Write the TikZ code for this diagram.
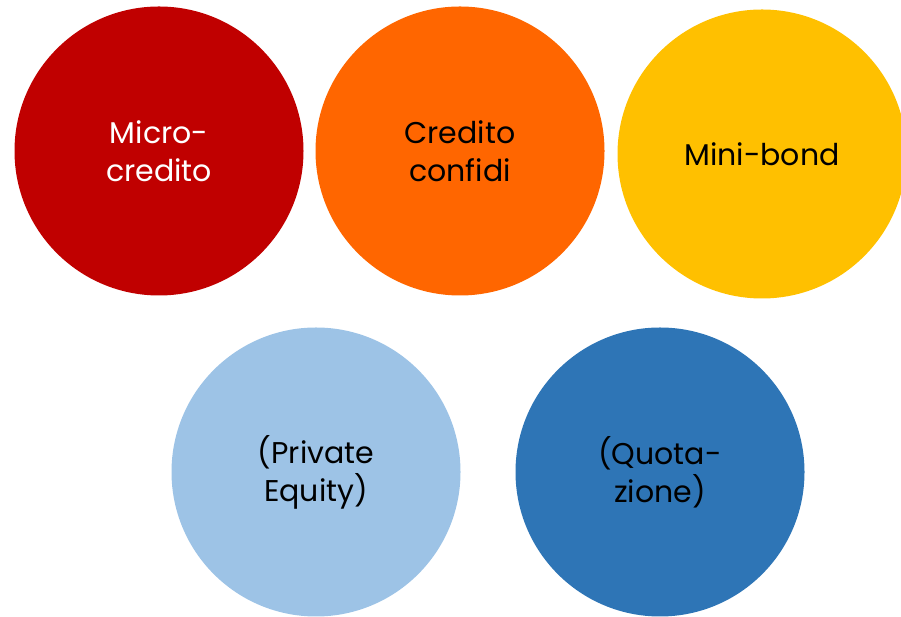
\documentclass[tikz,border=0pt]{standalone}
\usepackage{fontspec}
\setmainfont{Poppins}
\definecolor{cred}{HTML}{C00000}
\definecolor{corange}{HTML}{FF6600}
\definecolor{cyellow}{HTML}{FFC000}
\definecolor{clblue}{HTML}{9DC3E6}
\definecolor{cblue}{HTML}{2E75B6}
\tikzset{
  disc/.style={circle, minimum size=289pt, inner sep=0pt, draw=none, align=center,
    font=\fontsize{30}{38}\selectfont},
}
\begin{document}
\begin{tikzpicture}[x=1pt,y=1pt]
\useasboundingbox (0,0) rectangle (901,617);
\clip (0,0) rectangle (901,617);
\node[disc, fill=cred, text=white] (micro) at (159,466) {Micro-\\credito};
\node[disc, fill=corange, text=black] (confidi) at (460,466) {Credito\\confidi};
\node[disc, fill=cyellow, text=black] (mini) at (762,463) {Mini-bond};
\node[disc, fill=clblue, text=black] (pe) at (316,145) {(Private\\Equity)};
\node[disc, fill=cblue, text=black] (quota) at (660,145) {(Quota-\\zione)};
\end{tikzpicture}
\end{document}
